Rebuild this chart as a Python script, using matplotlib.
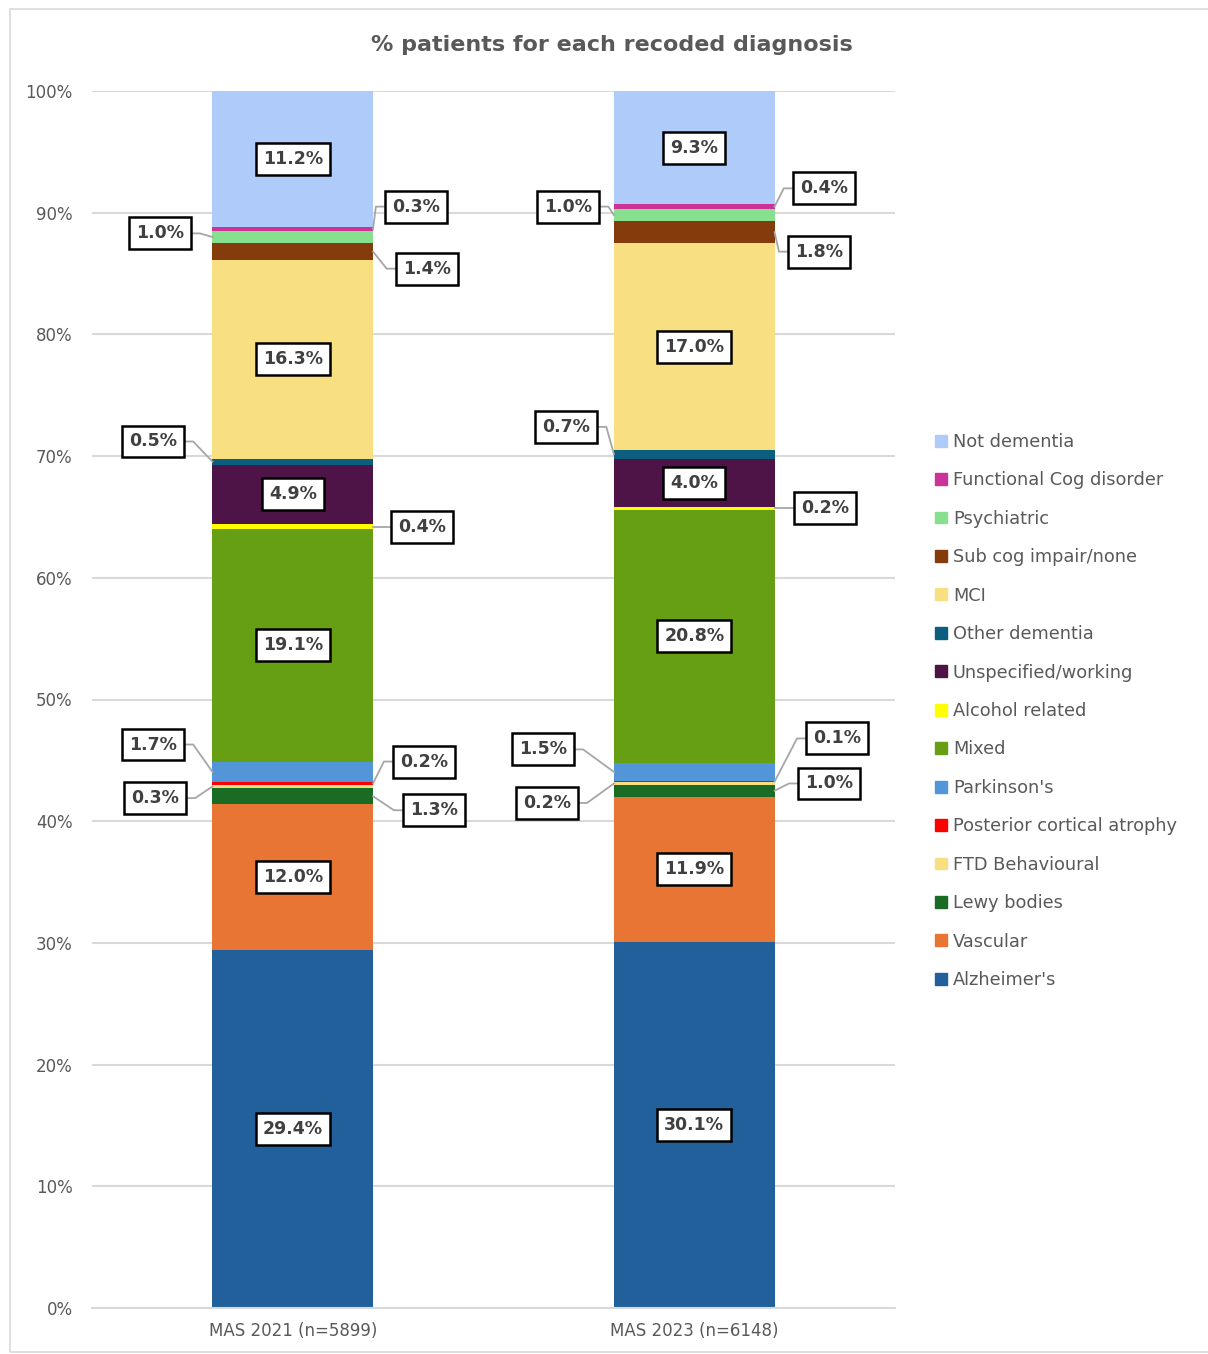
import matplotlib.pyplot as plt
from matplotlib import ticker
from matplotlib.patches import Patch, Rectangle

groups = ['MAS 2021 (n=5899)', 'MAS 2023 (n=6148)']

# bottom to top
categories = ["Alzheimer's", 'Vascular', 'Lewy bodies', 'FTD Behavioural',
              'Posterior cortical atrophy', "Parkinson's", 'Mixed',
              'Alcohol related', 'Unspecified/working', 'Other dementia',
              'MCI', 'Sub cog impair/none', 'Psychiatric',
              'Functional Cog disorder', 'Not dementia']

mas_2021 = [29.4, 12.0, 1.3, 0.3, 0.2, 1.7, 19.1, 0.4, 4.9, 0.5, 16.3, 1.4, 1.0, 0.3, 11.2]
mas_2023 = [30.1, 11.9, 1.0, 0.2, 0.1, 1.5, 20.8, 0.2, 4.0, 0.7, 17.0, 1.8, 1.0, 0.4, 9.3]

colors = ['#21609b', '#e87533', '#1a6b24', '#f7df82', '#ff0000', '#5296d9',
          '#669f14', '#ffff00', '#4f1447', '#0b5e7e', '#f7df82', '#843c0c',
          '#86e08d', '#cc3399', '#aecbfa']

# callout label placement (offset from bar centre, y in %), for thin segments
callouts = [
    {'Functional Cog disorder': (0.307, 90.5), 'Psychiatric': (-0.331, 88.3),
     'Sub cog impair/none': (0.334, 85.4), 'Other dementia': (-0.348, 71.2),
     'Alcohol related': (0.322, 64.2), "Parkinson's": (-0.348, 46.3),
     'Posterior cortical atrophy': (0.327, 44.9), 'FTD Behavioural': (-0.343, 41.9),
     'Lewy bodies': (0.352, 40.9)},
    {'Functional Cog disorder': (0.323, 92.0), 'Psychiatric': (-0.314, 90.5),
     'Sub cog impair/none': (0.311, 86.8), 'Other dementia': (-0.319, 72.4),
     'Alcohol related': (0.326, 65.7), "Parkinson's": (-0.377, 45.9),
     'Posterior cortical atrophy': (0.356, 46.8), 'FTD Behavioural': (-0.367, 41.5),
     'Lewy bodies': (0.336, 43.1)},
]

W, H = 1208, 1354
fig = plt.figure(figsize=(W / 100, H / 100), dpi=100)
fig.patches.append(Rectangle((10 / W, 2 / H), 1.2, 1 - 11 / H, transform=fig.transFigure,
                             fill=False, edgecolor='#d9d9d9', lw=1.2))
ax = fig.add_axes([92 / W, (H - 1308) / H, 803 / W, 1217 / H])

width = 0.4
box = dict(boxstyle='square,pad=0.4', fc='white', ec='black', lw=1.8)
text_kw = dict(fontsize=12.5, fontweight='bold', color='#404040', ha='center', va='center', zorder=5)

for i, values in enumerate([mas_2021, mas_2023]):
    bottom = 0
    for cat, v, c in zip(categories, values, colors):
        ax.bar(i, v, width, bottom=bottom, color=c, zorder=2)
        mid = bottom + v / 2
        label = f'{v:.1f}%'
        if cat in callouts[i]:
            dx, ly = callouts[i][cat]
            side = 1 if dx > 0 else -1
            x0 = i + side * width / 2
            bx = i + dx - side * 0.1
            ax.plot([x0, bx, i + dx], [mid, ly, ly], color='#a6a6a6', lw=1.3, zorder=4,
                    clip_on=False)
            ax.text(i + dx, ly, label, bbox=box, **text_kw)
        else:
            ax.text(i, mid, label, bbox=box, **text_kw)
        bottom += v

ax.set_xlim(-0.5, 1.5)
ax.set_ylim(0, 100)
ax.set_xticks([0, 1])
ax.set_xticklabels(groups)
ax.yaxis.set_major_locator(ticker.MultipleLocator(10))
ax.yaxis.set_major_formatter(lambda y, pos: f'{y:.0f}%')
ax.tick_params(length=0, labelsize=12, colors='#595959', pad=10)
ax.tick_params(axis='y', pad=14)
ax.grid(axis='y', color='#d9d9d9', lw=1.5, zorder=0)
for s in ['left', 'right', 'top']:
    ax.spines[s].set_visible(False)
ax.spines['bottom'].set_color('#d9d9d9')
ax.spines['bottom'].set_linewidth(1.5)

fig.text(612 / W, 1 - 45 / H, '% patients for each recoded diagnosis', ha='center', va='center',
         fontsize=16, fontweight='bold', color='#595959')

handles = [Patch(color=c, label=l) for c, l in zip(colors, categories)][::-1]
fig.legend(handles=handles, loc='center left', bbox_to_anchor=(919 / W, 1 - 711 / H),
           frameon=False, fontsize=12.8, labelcolor='#595959', handlelength=0.65,
           handleheight=0.65, handletextpad=0.35, labelspacing=1.15)

fig.savefig('out.png', dpi=100)
